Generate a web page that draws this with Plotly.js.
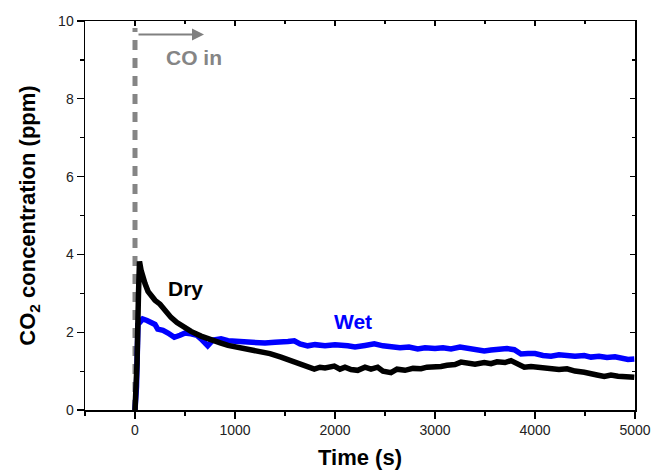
<!DOCTYPE html>
<html>
<head>
<meta charset="utf-8">
<script src="https://cdn.plot.ly/plotly-3.0.1.min.js"></script>
<style>html,body{margin:0;padding:0;background:#fff;}#chart{width:655px;height:473px;}</style>
</head>
<body>
<div id="chart"></div>
<script>
// ---- data ----
const dryTime = [0,20,35,45,60,80,100,130,160,200,250,300,360,420,490,560,660,720,790,860,930,1025,1100,1180,1260,1350,1460,1540,1627,1700,1793,1850,1900,1993,2050,2100,2160,2227,2300,2360,2427,2480,2560,2620,2700,2780,2860,2920,2993,3060,3120,3200,3260,3330,3400,3493,3560,3620,3700,3760,3830,3893,3960,4040,4100,4160,4240,4320,4400,4493,4560,4620,4693,4760,4830,4900,4993];
const dryConc = [0,1.2,3.0,3.82,3.6,3.35,3.25,3.05,2.95,2.82,2.72,2.55,2.38,2.25,2.12,2.02,1.9,1.84,1.76,1.72,1.66,1.62,1.58,1.55,1.5,1.45,1.36,1.28,1.2,1.12,1.05,1.1,1.08,1.13,1.05,1.1,1.04,1.02,1.1,1.05,1.1,1.0,0.96,1.05,1.02,1.07,1.06,1.1,1.1,1.12,1.15,1.17,1.23,1.2,1.18,1.22,1.19,1.24,1.22,1.27,1.18,1.1,1.12,1.1,1.08,1.07,1.04,1.06,1.0,0.97,0.92,0.9,0.86,0.9,0.87,0.85,0.84];

const wetTime = [0,15,30,50,77,120,160,200,227,280,330,393,450,500,560,620,660,700,727,780,860,930,1000,1127,1200,1300,1400,1460,1530,1593,1650,1727,1800,1900,2000,2127,2200,2300,2393,2480,2560,2650,2740,2827,2900,3000,3080,3160,3250,3330,3420,3493,3560,3640,3720,3793,3860,3930,4000,4080,4160,4240,4320,4400,4493,4560,4640,4720,4800,4860,4930,4993];
const wetConc = [0,0.6,2.2,2.28,2.34,2.3,2.25,2.2,2.08,2.05,1.98,1.87,1.92,1.98,1.96,1.92,1.83,1.72,1.65,1.8,1.83,1.78,1.77,1.74,1.76,1.72,1.74,1.74,1.76,1.78,1.7,1.65,1.68,1.65,1.68,1.65,1.62,1.66,1.7,1.65,1.62,1.6,1.62,1.57,1.6,1.58,1.6,1.57,1.62,1.58,1.55,1.52,1.54,1.55,1.58,1.55,1.44,1.45,1.45,1.4,1.38,1.42,1.4,1.38,1.4,1.36,1.38,1.35,1.37,1.33,1.3,1.31];

const coInTime = [0, 0];
const coInConc = [0, 9.82];
const arrowStart = [20, 9.65];
const arrowEnd = [690, 9.65];

const xTicks = [0,1000,2000,3000,4000,5000];
const yTicks = [0,2,4,6,8,10];

const labelFont = 'Arial, "Liberation Sans", sans-serif';

const traces = [
  {x: coInTime, y: coInConc, mode: 'lines', line: {color: '#858585', width: 5, dash: '10px,8px'}, hoverinfo: 'skip', showlegend: false},
  {x: wetTime, y: wetConc, mode: 'lines', line: {color: '#0000ff', width: 5.5}, showlegend: false},
  {x: dryTime, y: dryConc, mode: 'lines', line: {color: '#000000', width: 5.5}, showlegend: false},
  {x: [], y: [], xaxis: 'x2', yaxis: 'y2', hoverinfo: 'skip', showlegend: false}
];

const axisCommon = {
  showgrid: false, zeroline: false, showline: true, linecolor: '#000', linewidth: 1.5,
  tickcolor: '#000', tickwidth: 1.2,
  tickfont: {family: labelFont, size: 14, color: '#222'}
};

const layout = {
  width: 655, height: 473,
  margin: {l: 85, r: 20, t: 21, b: 63},
  paper_bgcolor: '#fff', plot_bgcolor: '#fff',
  xaxis: Object.assign({}, axisCommon, {
    range: [-500, 5000], tickvals: xTicks, ticks: 'outside', ticklen: 7,
    minor: {dtick: 500, tick0: 0, ticks: 'outside', ticklen: 4, tickcolor: '#000', tickwidth: 1.2},
    title: {text: '<b>Time (s)</b>', font: {family: labelFont, size: 22, color: '#000'}, standoff: 12}
  }),
  yaxis: Object.assign({}, axisCommon, {
    range: [0, 10], tickvals: yTicks, ticks: 'outside', ticklen: 7,
    minor: {dtick: 1, tick0: 0, ticks: 'outside', ticklen: 4, tickcolor: '#000', tickwidth: 1.2},
    title: {text: '<b>CO<sub>2</sub> concentration (ppm)</b>', font: {family: labelFont, size: 22, color: '#000'}, standoff: 16}
  }),
  xaxis2: Object.assign({}, axisCommon, {
    overlaying: 'x', side: 'top', anchor: 'y2', range: [-500, 5000], tickvals: xTicks,
    ticks: 'inside', ticklen: 5, showticklabels: false,
    minor: {dtick: 500, tick0: 0, ticks: 'inside', ticklen: 3, tickcolor: '#000'}
  }),
  yaxis2: Object.assign({}, axisCommon, {
    overlaying: 'y', side: 'right', anchor: 'x2', range: [0, 10], tickvals: yTicks,
    ticks: 'inside', ticklen: 5, showticklabels: false,
    minor: {dtick: 1, tick0: 0, ticks: 'inside', ticklen: 3, tickcolor: '#000'}
  }),
  annotations: [
    {x: arrowEnd[0], y: arrowEnd[1], ax: arrowStart[0], ay: arrowStart[1], axref: 'x', ayref: 'y', xref: 'x', yref: 'y',
     text: '', showarrow: true, arrowhead: 2, arrowsize: 1.2, arrowwidth: 2, arrowcolor: '#808080'},
    {x: 590, y: 9.05, xref: 'x', yref: 'y', text: '<b>CO in</b>', showarrow: false,
     font: {family: labelFont, size: 21, color: '#858585'}},
    {x: 505, y: 3.12, xref: 'x', yref: 'y', text: '<b>Dry</b>', showarrow: false,
     font: {family: labelFont, size: 21, color: '#000'}},
    {x: 2180, y: 2.28, xref: 'x', yref: 'y', text: '<b>Wet</b>', showarrow: false,
     font: {family: labelFont, size: 21, color: '#0000ff'}}
  ]
};

Plotly.newPlot('chart', traces, layout, {displayModeBar: false, staticPlot: true});
</script>
</body>
</html>
